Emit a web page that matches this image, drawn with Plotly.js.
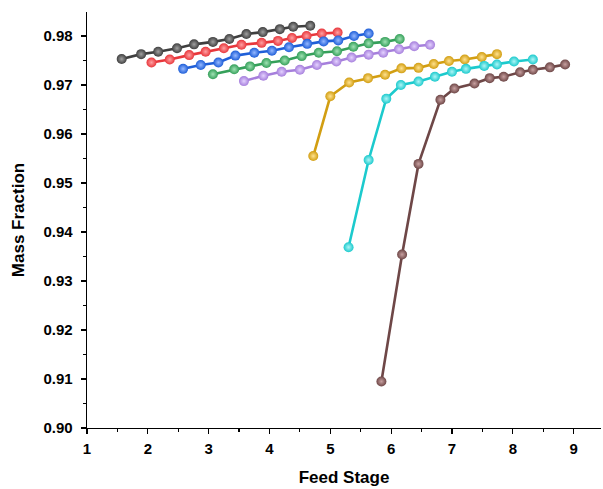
<!DOCTYPE html>
<html><head><meta charset="utf-8">
<script src="https://cdn.plot.ly/plotly-3.0.1.min.js"></script>
<style>html,body{margin:0;padding:0;background:#fff}#c{width:603px;height:489px}</style>
</head><body><div id="c"></div>
<script>
const blackX = [1.57,1.89,2.17,2.48,2.76,3.07,3.34,3.62,3.89,4.17,4.39,4.67];
const blackY = [0.9753,0.9763,0.9768,0.9775,0.9783,0.9788,0.9794,0.9804,0.9808,0.9814,0.9819,0.9821];
const redX = [2.06,2.36,2.68,2.95,3.25,3.54,3.87,4.14,4.37,4.61,4.86,5.12];
const redY = [0.9746,0.9752,0.9761,0.9768,0.9775,0.9782,0.9786,0.9790,0.9796,0.9800,0.9805,0.9807];
const blueX = [2.58,2.87,3.16,3.44,3.75,4.04,4.32,4.62,4.89,5.13,5.39,5.63];
const blueY = [0.9733,0.9741,0.9746,0.9760,0.9766,0.9770,0.9777,0.9784,0.9789,0.9791,0.9800,0.9805];
const greenX = [3.07,3.42,3.68,3.95,4.25,4.53,4.81,5.11,5.38,5.63,5.90,6.14];
const greenY = [0.9722,0.9732,0.9738,0.9745,0.9750,0.9759,0.9766,0.9769,0.9778,0.9785,0.9788,0.9794];
const purpleX = [3.58,3.90,4.20,4.50,4.78,5.10,5.35,5.63,5.87,6.13,6.38,6.64];
const purpleY = [0.9708,0.9719,0.9727,0.9731,0.9741,0.9748,0.9756,0.9762,0.9766,0.9773,0.9779,0.9782];
const goldX = [4.72,5.00,5.31,5.62,5.90,6.17,6.45,6.70,6.95,7.21,7.49,7.74];
const goldY = [0.9555,0.9677,0.9705,0.9714,0.9721,0.9734,0.9735,0.9743,0.9749,0.9752,0.9757,0.9763];
const cyanX = [5.30,5.63,5.92,6.16,6.45,6.72,7.00,7.23,7.53,7.74,8.02,8.33];
const cyanY = [0.9369,0.9547,0.9672,0.9700,0.9707,0.9717,0.9727,0.9733,0.9739,0.9742,0.9748,0.9752];
const brownX = [5.84,6.18,6.45,6.81,7.04,7.37,7.62,7.85,8.12,8.33,8.61,8.86];
const brownY = [0.9095,0.9354,0.9539,0.9670,0.9693,0.9703,0.9714,0.9717,0.9726,0.9731,0.9736,0.9742];
const xTicks = [1,2,3,4,5,6,7,8,9];
const xTickText = ['1','2','3','4','5','6','7','8','9'];
const yTicks = [0.90,0.91,0.92,0.93,0.94,0.95,0.96,0.97,0.98];
const yTickText = ['0.90','0.91','0.92','0.93','0.94','0.95','0.96','0.97','0.98'];

const series = [
  [blackX, blackY, '#3f3f3f', '#a0a0a0'],
  [redX, redY, '#e8373c', '#ffa0a2'],
  [blueX, blueY, '#1f5fd8', '#95b8ff'],
  [greenX, greenY, '#35a05a', '#a0e2b4'],
  [purpleX, purpleY, '#a67fdc', '#e4d2ff'],
  [goldX, goldY, '#d29e12', '#ffe290'],
  [cyanX, cyanY, '#1ccacd', '#aef5f6'],
  [brownX, brownY, '#6e4747', '#c8a0a0']
];
const traces = series.map(s => ({
  x: s[0], y: s[1], type: 'scatter', mode: 'lines+markers',
  line: {color: s[2], width: 2.6},
  marker: {color: s[2], size: 10, gradient: {type: 'radial', color: s[3]}, line: {width: 0}},
  showlegend: false
}));
const fam = 'Liberation Sans, Arial, sans-serif';
const axFont = {family: fam, size: 15, color: '#000', weight: 'bold'};
const titleFont = {family: fam, size: 17, color: '#000', weight: 'bold'};
const layout = {
  width: 603, height: 489,
  margin: {l: 87, r: 2, t: 12, b: 61},
  paper_bgcolor: '#fff', plot_bgcolor: '#fff',
  font: {family: fam, color: '#000'},
  xaxis: {
    range: [1, 9.45], tickvals: xTicks, ticktext: xTickText,
    ticks: 'outside', ticklen: 5, tickwidth: 1.2, tickcolor: '#000', ticklabelstandoff: 2,
    minor: {tickvals: [1.5,2.5,3.5,4.5,5.5,6.5,7.5,8.5], ticklen: 3, tickwidth: 1.2, tickcolor: '#000', ticks: 'outside'},
    showline: true, linecolor: '#000', linewidth: 1.3, showgrid: false, zeroline: false,
    tickfont: axFont,
    title: {text: 'Feed Stage', font: titleFont, standoff: 14}
  },
  yaxis: {
    range: [0.90, 0.9849], tickvals: yTicks, ticktext: yTickText,
    ticks: 'outside', ticklen: 5, tickwidth: 1.2, tickcolor: '#000', ticklabelstandoff: 5,
    minor: {tickvals: [0.905,0.915,0.925,0.935,0.945,0.955,0.965,0.975], ticklen: 3, tickwidth: 1.2, tickcolor: '#000', ticks: 'outside'},
    showline: true, linecolor: '#000', linewidth: 1.3, showgrid: false, zeroline: false,
    tickfont: axFont,
    title: {text: 'Mass Fraction', font: titleFont, standoff: 14}
  }
};
Plotly.newPlot('c', traces, layout, {displayModeBar: false, staticPlot: true});
</script></body></html>
